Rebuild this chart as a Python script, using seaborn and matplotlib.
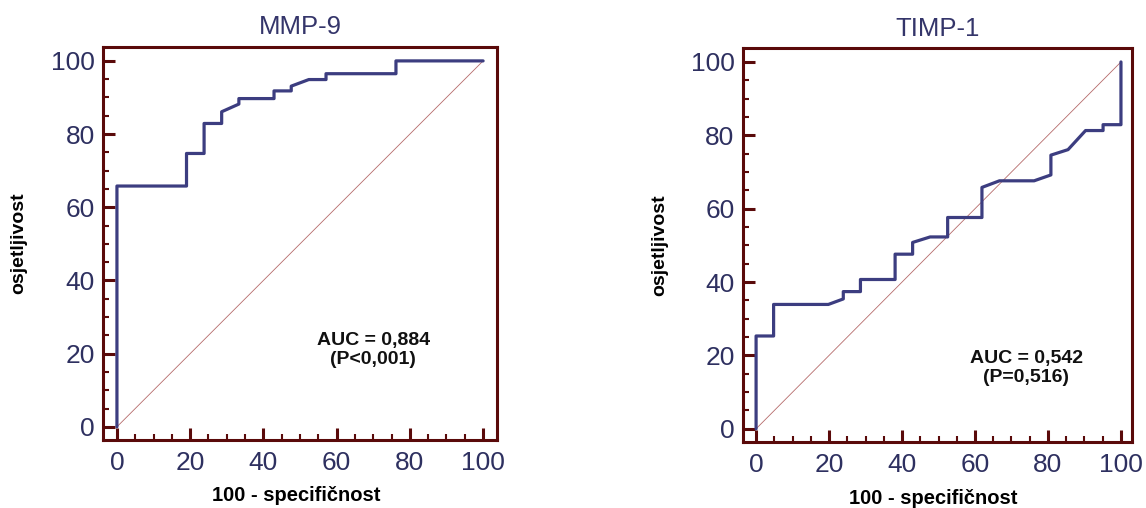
import numpy as np
import pandas as pd
import matplotlib
matplotlib.use("Agg")
import matplotlib.pyplot as plt
from matplotlib.ticker import MultipleLocator
import seaborn as sns

# ROC vertices (100 - specificity, sensitivity)
mmp9_fpr = [0, 0, 19.0, 19.0, 23.8, 23.8, 28.6, 28.6, 33.3, 33.3, 42.9, 42.9,
            47.6, 47.6, 52.4, 57.1, 57.1, 76.2, 76.2, 100]
mmp9_tpr = [0, 65.8, 65.8, 74.7, 74.7, 82.9, 82.9, 86.1, 88.2, 89.7, 89.7, 91.8,
            91.8, 93.1, 94.9, 94.9, 96.5, 96.5, 100, 100]

timp1_fpr = [0, 0, 4.8, 4.8, 19.8, 23.9, 23.9, 28.6, 28.6, 38.1, 38.1, 42.9,
             42.9, 47.7, 52.5, 52.5, 61.9, 61.9, 66.7, 76.2, 80.8, 80.8, 85.5,
             90.3, 95.1, 95.1, 100, 100]
timp1_tpr = [0, 25.3, 25.3, 33.9, 33.9, 35.4, 37.4, 37.4, 40.7, 40.7, 47.6, 47.6,
             50.8, 52.3, 52.3, 57.6, 57.6, 65.8, 67.6, 67.6, 69.2, 74.6, 76.1,
             81.3, 81.3, 82.9, 82.9, 100]

titles = ["MMP-9", "TIMP-1"]
auc_texts = ["AUC = 0,884\n(P<0,001)", "AUC = 0,542\n(P=0,516)"]
auc_pos = [(70, 21), (74, 16.6)]

sns.set_style("white")
plt.rcParams['font.family'] = ['Liberation Sans', 'DejaVu Sans']

maroon = "#5a0a0a"
navy = "#3c3d80"
label_col = "#2e3060"

fig = plt.figure(figsize=(11.46, 5.08), dpi=100)
ax1 = fig.add_axes([0.0899, 0.1339, 0.3438, 0.7736])
ax2 = fig.add_axes([0.6483, 0.1299, 0.3394, 0.7756])

curves = [(mmp9_fpr, mmp9_tpr), (timp1_fpr, timp1_tpr)]
xlims = [(-3.8, 103.8), (-3.6, 103.0)]

for i, ax in enumerate([ax1, ax2]):
    fpr, tpr = curves[i]
    df = pd.DataFrame({"fpr": fpr, "tpr": tpr})
    # reference diagonal
    sns.lineplot(x=[0, 100], y=[0, 100], ax=ax, color="#b56a6a", lw=0.6)
    sns.lineplot(data=df, x="fpr", y="tpr", ax=ax, sort=False, estimator=None,
                 color=navy, lw=2.3)

    ax.set_xlim(*xlims[i])
    ax.set_ylim(-3.6, 103.8)
    ax.xaxis.set_major_locator(MultipleLocator(20))
    ax.yaxis.set_major_locator(MultipleLocator(20))
    ax.xaxis.set_minor_locator(MultipleLocator(5))
    ax.yaxis.set_minor_locator(MultipleLocator(5))
    ax.tick_params(which="both", bottom=True, left=True, top=False, right=False)
    ax.tick_params(which="major", direction="in", length=8.5, width=2.2,
                   color=maroon, labelsize=19, labelcolor=label_col, pad=8)
    ax.tick_params(which="minor", direction="in", length=4.5, width=1.5,
                   color=maroon)
    ax.tick_params(axis="y", which="major", pad=6)
    for sp in ax.spines.values():
        sp.set_visible(True)
        sp.set_color(maroon)
        sp.set_linewidth(2.2)

    ax.set_title(titles[i], fontsize=18.5, color="#34356a", pad=9)
    ax.set_xlabel("100 - specifičnost", fontsize=14.5, fontweight="bold",
                  color="black")
    ax.set_ylabel("osjetljivost", fontsize=14, fontweight="bold",
                  color="black")
    ax.xaxis.set_label_coords(0.49, -0.118)
    ax.yaxis.set_label_coords(-0.192, 0.5)

    ax.text(auc_pos[i][0], auc_pos[i][1], auc_texts[i], ha="center", va="center",
            fontsize=14, fontweight="bold", linespacing=1.15, color="#111111")

fig.savefig("out.png", dpi=100)
